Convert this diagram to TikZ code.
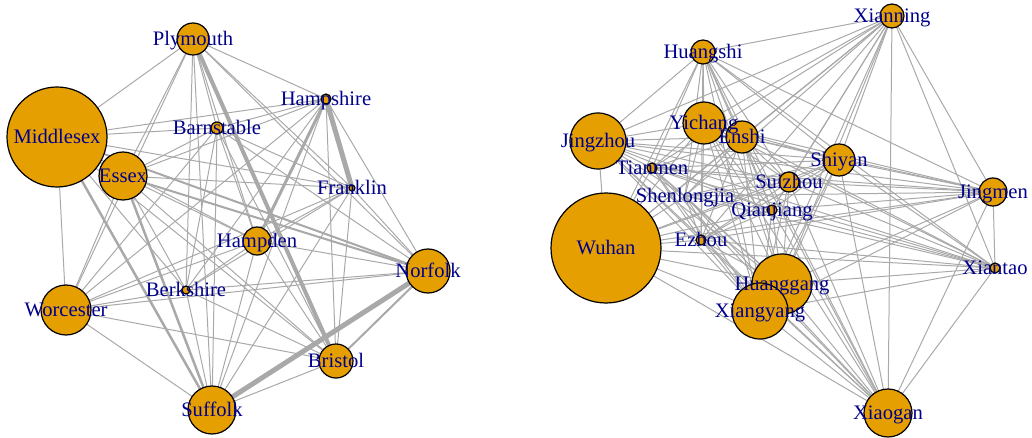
\documentclass[tikz,border=0pt]{standalone}
\usepackage{fontspec}
\setmainfont{Liberation Serif}
\definecolor{vfill}{HTML}{E69F00}
\definecolor{lab}{HTML}{00008B}
\definecolor{edg}{HTML}{A9A9A9}
\begin{document}
\begin{tikzpicture}[x=0.5pt,y=-0.5pt,
  edge/.style={draw=edg,line width=0.5pt},
  vert/.style={circle,draw=black,fill=vfill,line width=0.6pt,inner sep=0pt},
  lbl/.style={text=lab,font=\fontsize{10.3}{12}\selectfont,inner sep=0pt,text height=6.8pt,text depth=0pt}]
\useasboundingbox (0,0) rectangle (1032,438);
% positions (px, origin top-left)
\foreach \n/\x/\y in {
  Plymouth/193/39, Middlesex/57/137, Hampshire/326/99, Barnstable/217/128,
  Essex/123/176, Franklin/352/188, Hampden/257/241, Norfolk/428/271,
  Berkshire/186/290, Worcester/66/310, Bristol/336/361, Suffolk/212/410,
  Xianning/892/16, Huangshi/703/52, Yichang/704/123, Enshi/742/137,
  Jingzhou/598/141, Shiyan/839/160, Tianmen/652/168, Suizhou/789/182,
  Jingmen/993/192, Qianjiang/772/210, Shenlongjia/685/196, Wuhan/606/248,
  Ezhou/701/240, Huanggang/782/284, Xiangyang/760/311, Xiantao/995/268,
  Xiaogan/888/413}
  \coordinate (\n) at (\x,\y);
% left graph edges
\foreach \a [count=\i] in {Plymouth,Middlesex,Hampshire,Barnstable,Essex,Franklin,Hampden,Norfolk,Berkshire,Worcester,Bristol,Suffolk}{
  \foreach \b [count=\j] in {Plymouth,Middlesex,Hampshire,Barnstable,Essex,Franklin,Hampden,Norfolk,Berkshire,Worcester,Bristol,Suffolk}{
    \ifnum\j>\i \draw[edge] (\a) -- (\b);\fi
  }
}
\draw[edge,line width=2.5pt] (Hampshire) -- (Franklin);
\draw[edge,line width=2.5pt] (Norfolk) -- (Suffolk);
\draw[edge,line width=2pt] (Plymouth) -- (Bristol);
\draw[edge,line width=1.5pt] (Hampshire) -- (Hampden);
\draw[edge,line width=1.25pt] (Middlesex) -- (Suffolk);
\draw[edge,line width=1.25pt] (Essex) -- (Suffolk);
\draw[edge,line width=1pt] (Middlesex) -- (Norfolk);
\draw[edge,line width=1pt] (Essex) -- (Norfolk);
\draw[edge,line width=1pt] (Norfolk) -- (Bristol);
% right graph edges
\foreach \a [count=\i] in {Xianning,Huangshi,Yichang,Enshi,Jingzhou,Shiyan,Tianmen,Suizhou,Jingmen,Qianjiang,Shenlongjia,Wuhan,Ezhou,Huanggang,Xiangyang,Xiantao,Xiaogan}{
  \foreach \b [count=\j] in {Xianning,Huangshi,Yichang,Enshi,Jingzhou,Shiyan,Tianmen,Suizhou,Jingmen,Qianjiang,Shenlongjia,Wuhan,Ezhou,Huanggang,Xiangyang,Xiantao,Xiaogan}{
    \ifnum\j>\i \draw[edge] (\a) -- (\b);\fi
  }
}
% vertices (minimum size in pt = radius in px)
\foreach \n/\r in {
  Plymouth/16, Middlesex/50, Hampshire/5, Barnstable/6, Essex/24, Franklin/3,
  Hampden/14, Norfolk/22, Berkshire/4, Worcester/25, Bristol/17, Suffolk/24,
  Xianning/12, Huangshi/12, Yichang/21, Enshi/16, Jingzhou/28, Shiyan/16,
  Tianmen/5, Suizhou/10, Jingmen/14, Qianjiang/5, Wuhan/55, Ezhou/5,
  Huanggang/30, Xiangyang/28, Xiantao/5, Xiaogan/24}
  \node[vert,minimum size=\r pt] (v\n) at (\n) {};
% labels
\foreach \n in {Plymouth,Middlesex,Hampshire,Barnstable,Essex,Franklin,Hampden,Norfolk,Berkshire,Worcester,Bristol,Suffolk,
  Xianning,Huangshi,Yichang,Enshi,Jingzhou,Shiyan,Tianmen,Suizhou,Jingmen,Qianjiang,Shenlongjia,Wuhan,Ezhou,Huanggang,Xiangyang,Xiantao,Xiaogan}
  \node[lbl] (t\n) at (\n) {\n};
\end{tikzpicture}
\end{document}
